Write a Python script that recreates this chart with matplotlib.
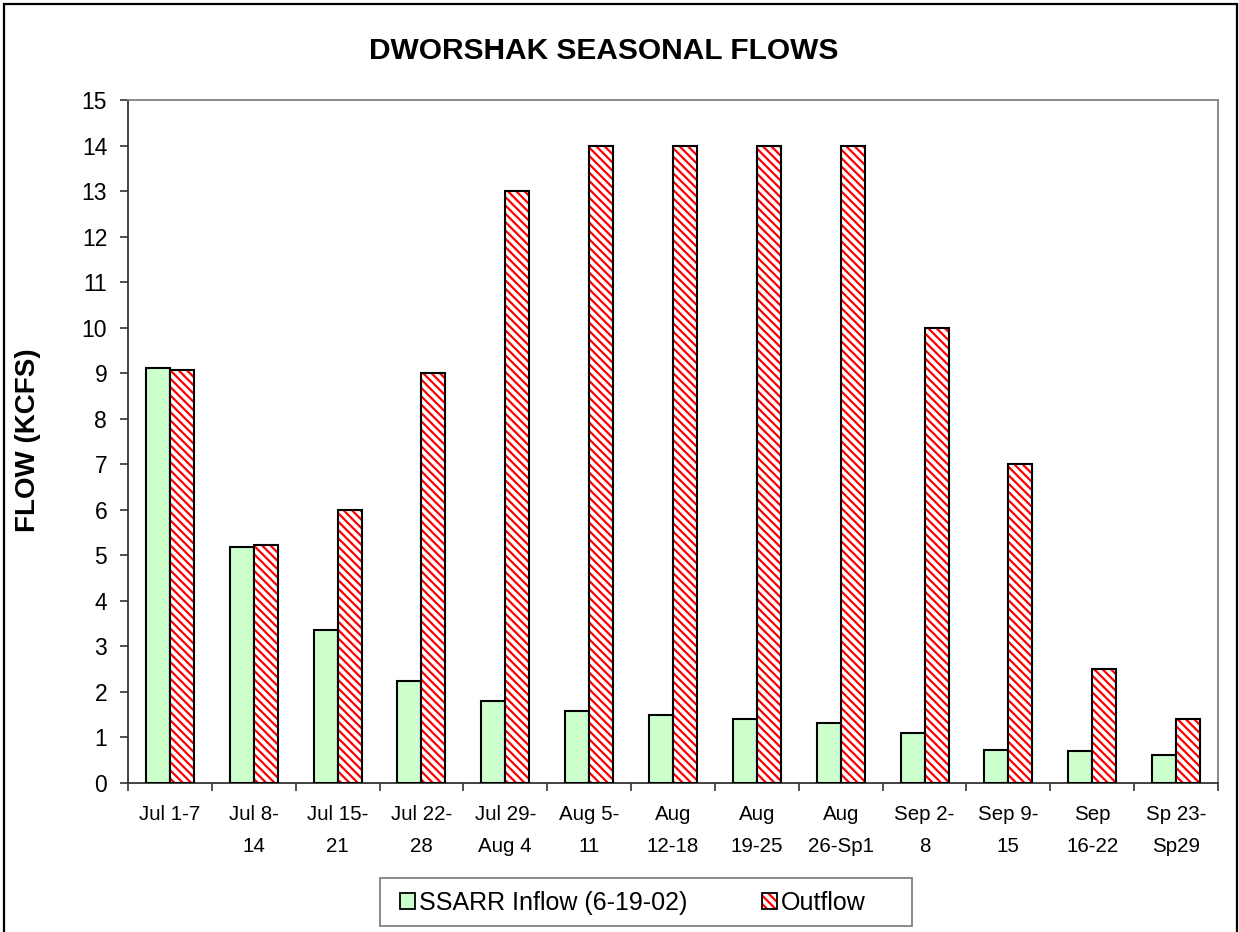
import numpy as np
import matplotlib
matplotlib.use("Agg")
import matplotlib.pyplot as plt
from matplotlib.patches import Patch, Rectangle
from matplotlib.legend_handler import HandlerTuple

categories = ["Jul 1-7", "Jul 8-\n14", "Jul 15-\n21", "Jul 22-\n28", "Jul 29-\nAug 4",
              "Aug 5-\n11", "Aug\n12-18", "Aug\n19-25", "Aug\n26-Sp1", "Sep 2-\n8",
              "Sep 9-\n15", "Sep\n16-22", "Sp 23-\nSp29"]
inflow = [9.12, 5.18, 3.35, 2.25, 1.80, 1.59, 1.50, 1.41, 1.32, 1.10, 0.73, 0.70, 0.62]
outflow = [9.08, 5.22, 6.0, 9.0, 13.0, 14.0, 14.0, 14.0, 14.0, 10.0, 7.0, 2.5, 1.4]
yticks = list(range(0, 16))

plt.rcParams['font.family'] = ['Liberation Sans', 'DejaVu Sans']
plt.rcParams['hatch.linewidth'] = 1.6

W, H = 1239, 932
fig = plt.figure(figsize=(W / 100, H / 100), dpi=100)
ax = fig.add_axes([128 / W, 1 - 783 / H, (1218 - 128) / W, (783 - 100) / H])

x = np.arange(len(categories))
bw = 24 / 83.85
green = '#CCFFCC'

ax.bar(x - bw / 2, inflow, bw, color=green, edgecolor='black', linewidth=1.5, zorder=3)
ax.bar(x + bw / 2, outflow, bw, color='white', edgecolor='red', hatch='\\\\\\\\',
       linewidth=0, zorder=3)
ax.bar(x + bw / 2, outflow, bw, fill=False, edgecolor='black', linewidth=1.5, zorder=4)

ax.set_xlim(-0.5, len(categories) - 0.5)
ax.set_ylim(0, 15)
ax.set_yticks(yticks)
ax.set_yticklabels([str(v) for v in yticks], fontsize=16.5)
ax.tick_params(axis='y', length=6, width=1.2, pad=9, color='#333333')

ax.set_xticks(x)
ax.set_xticklabels(categories, fontsize=14.8, linespacing=1.85)
ax.tick_params(axis='x', which='major', length=0, pad=16)
ax.set_xticks(np.arange(-0.5, len(categories)), minor=True)
ax.tick_params(axis='x', which='minor', length=6, width=1.2, color='#333333')

for s in ['left', 'bottom']:
    ax.spines[s].set_color('#333333')
    ax.spines[s].set_linewidth(1.3)
for s in ['top', 'right']:
    ax.spines[s].set_color('#808080')
    ax.spines[s].set_linewidth(1.3)

fig.text(604 / W, 1 - 51 / H, "DWORSHAK SEASONAL FLOWS", fontsize=21.5,
         fontweight='bold', ha='center', va='center')
fig.text(28 / W, 1 - 440 / H, "FLOW (KCFS)", fontsize=20, fontweight='bold',
         rotation=90, ha='center', va='center')

# figure border
fig.patches.append(Rectangle((4 / W, -0.05), (1237 - 4) / W, 1.05 - 4 / H,
                             transform=fig.transFigure, fill=False,
                             edgecolor='black', linewidth=1.6))
# legend box
fig.patches.append(Rectangle((380 / W, 1 - 926 / H), 532 / W, 48 / H,
                             transform=fig.transFigure, fill=False,
                             edgecolor='#808080', linewidth=1.3))

h1 = Patch(facecolor=green, edgecolor='black', linewidth=1.3)
h2a = Patch(facecolor='white', edgecolor='red', hatch='\\\\\\\\', linewidth=0)
h2b = Patch(fill=False, edgecolor='black', linewidth=1.3)
fig.legend([h1, (h2a, h2b)], ["SSARR Inflow (6-19-02)", "Outflow"],
           handler_map={tuple: HandlerTuple(ndivide=1)},
           loc='center', bbox_to_anchor=(633 / W, 1 - 903 / H), ncol=2,
           frameon=False, fontsize=18, handlelength=0.6, handleheight=0.6,
           handletextpad=0.15, columnspacing=3.0, borderaxespad=0)

fig.savefig("out.png", dpi=100)
